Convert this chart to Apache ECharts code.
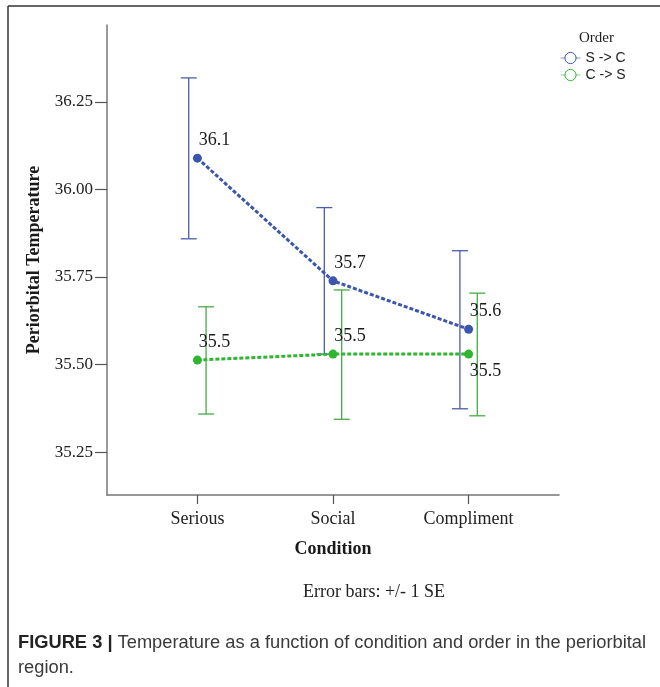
<!DOCTYPE html>
<html>
<head>
<meta charset="utf-8">
<script src="https://cdn.jsdelivr.net/npm/echarts@6/dist/echarts.min.js"></script>
<style>
  html, body { margin: 0; padding: 0; background: #fff; }
  #chart { width: 660px; height: 687px; }
</style>
</head>
<body>
<div id="chart"></div>
<script>
// categories and tick labels
const categories = ['Serious', 'Social', 'Compliment']
const yTicks = [35.25, 35.5, 35.75, 36.0, 36.25]

// Order S -> C
const meanSC = [36.089, 35.739, 35.601]
const lowSC = [35.859, 35.530, 35.374]
const highSC = [36.318, 35.948, 35.825]

// Order C -> S
const meanCS = [35.513, 35.530, 35.530]
const lowCS = [35.359, 35.344, 35.354]
const highCS = [35.665, 35.713, 35.704]

const BLUE = '#3c55ad'
const GREEN = '#2fb52f'
const SERIF = 'Liberation Serif'
const DODGE = 0.064 // error bars sit a little left/right of the point

// error bar with caps, drawn through the axes
function errorBar(color) {
  return function (params, api) {
    const x = api.value(0)
    const lo = api.coord([x, api.value(1)])
    const hi = api.coord([x, api.value(2)])
    const half = 8
    const style = { stroke: color, lineWidth: 1.3 }
    return {
      type: 'group',
      children: [
        { type: 'line', shape: { x1: lo[0], y1: lo[1], x2: hi[0], y2: hi[1] }, style },
        { type: 'line', shape: { x1: lo[0] - half, y1: lo[1], x2: lo[0] + half, y2: lo[1] }, style },
        { type: 'line', shape: { x1: hi[0] - half, y1: hi[1], x2: hi[0] + half, y2: hi[1] }, style },
      ],
    }
  }
}

function meanLine(name, means, color, labelPos) {
  return {
    name: name,
    type: 'line',
    data: means.map((v, i) => ({
      value: [i + 1, v],
      label: { position: labelPos[i] },
    })),
    symbol: 'circle',
    symbolSize: 9,
    itemStyle: { color: color },
    lineStyle: { color: color, width: 3, type: [4, 2] },
    label: {
      show: true,
      offset: [17, 0],
      distance: 4,
      formatter: p => p.value[1].toFixed(1),
      fontFamily: SERIF,
      fontSize: 18,
      color: '#1a1a1a',
    },
    z: 3,
  }
}

const chart = echarts.init(document.getElementById('chart'))
chart.setOption({
  animation: false,
  grid: { left: 107, right: 101, top: 25, bottom: 192 },
  title: [
    {
      text: 'Order',
      left: 574, top: 26,
      textStyle: { fontFamily: SERIF, fontSize: 15, fontWeight: 'normal', color: '#222' },
    },
    {
      text: 'Error bars: +/- 1 SE',
      left: 298, top: 578,
      textStyle: { fontFamily: SERIF, fontSize: 18, fontWeight: 'normal', color: '#222' },
    },
    {
      text: '{b|FIGURE 3 |} Temperature as a function of condition and order in the periorbital\nregion.',
      left: 13, top: 625,
      textStyle: {
        fontFamily: 'Liberation Sans', fontSize: 18.3, fontWeight: 'normal', color: '#3a3a3a', lineHeight: 25,
        rich: { b: { fontFamily: 'Liberation Sans', fontSize: 18.3, fontWeight: 'bold', color: '#222', lineHeight: 25 } },
      },
    },
  ],
  legend: {
    orient: 'vertical',
    left: 555, top: 46,
    itemWidth: 20, itemHeight: 14, itemGap: 3,
    textStyle: { fontFamily: 'Liberation Sans', fontSize: 14, color: '#222' },
    data: [
      { name: 'S -> C', itemStyle: { color: '#fff', borderColor: BLUE, borderWidth: 1 }, lineStyle: { color: '#8a96c8', width: 1, type: 'solid' } },
      { name: 'C -> S', itemStyle: { color: '#fff', borderColor: GREEN, borderWidth: 1 }, lineStyle: { color: '#8ccf8c', width: 1, type: 'solid' } },
    ],
  },
  xAxis: {
    type: 'value',
    min: 1 / 3,
    max: 11 / 3,
    name: 'Condition',
    nameLocation: 'middle',
    nameGap: 45,
    nameTextStyle: { fontFamily: SERIF, fontSize: 18, fontWeight: 'bold', color: '#1a1a1a' },
    axisLine: { lineStyle: { color: '#777', width: 1.5 } },
    axisTick: { customValues: [1, 2, 3], length: 9, lineStyle: { color: '#555', width: 1.2 } },
    axisLabel: {
      customValues: [1, 2, 3],
      formatter: v => categories[Math.round(v) - 1],
      margin: 15,
      fontFamily: SERIF, fontSize: 18, color: '#222',
    },
    splitLine: { show: false },
  },
  yAxis: {
    type: 'value',
    min: 35.128,
    max: 36.469,
    name: 'Periorbital Temperature',
    nameLocation: 'middle',
    nameRotate: 90,
    nameGap: 64,
    nameTextStyle: { fontFamily: SERIF, fontSize: 18, fontWeight: 'bold', color: '#1a1a1a' },
    axisLine: { show: true, lineStyle: { color: '#777', width: 1.5 } },
    axisTick: { show: true, customValues: yTicks, length: 12, lineStyle: { color: '#555', width: 1.2 } },
    axisLabel: {
      customValues: yTicks,
      formatter: v => v.toFixed(2),
      margin: 14,
      fontFamily: SERIF, fontSize: 17, color: '#222',
    },
    splitLine: { show: false },
  },
  graphic: [
    { type: 'line', shape: { x1: 8, y1: 6, x2: 660, y2: 6 }, style: { stroke: '#333', lineWidth: 1.5 } },
    { type: 'line', shape: { x1: 8, y1: 6, x2: 8, y2: 687 }, style: { stroke: '#333', lineWidth: 1.5 } },
  ],
  series: [
    {
      name: 'S -> C SE',
      type: 'custom',
      renderItem: errorBar('#4d5ca6'),
      data: categories.map((c, i) => [i + 1 - DODGE, lowSC[i], highSC[i]]),
      z: 2,
    },
    {
      name: 'C -> S SE',
      type: 'custom',
      renderItem: errorBar('#47ab47'),
      data: categories.map((c, i) => [i + 1 + DODGE, lowCS[i], highCS[i]]),
      z: 2,
    },
    meanLine('S -> C', meanSC, BLUE, ['top', 'top', 'top']),
    meanLine('C -> S', meanCS, GREEN, ['top', 'top', 'bottom']),
  ],
})
</script>
</body>
</html>
